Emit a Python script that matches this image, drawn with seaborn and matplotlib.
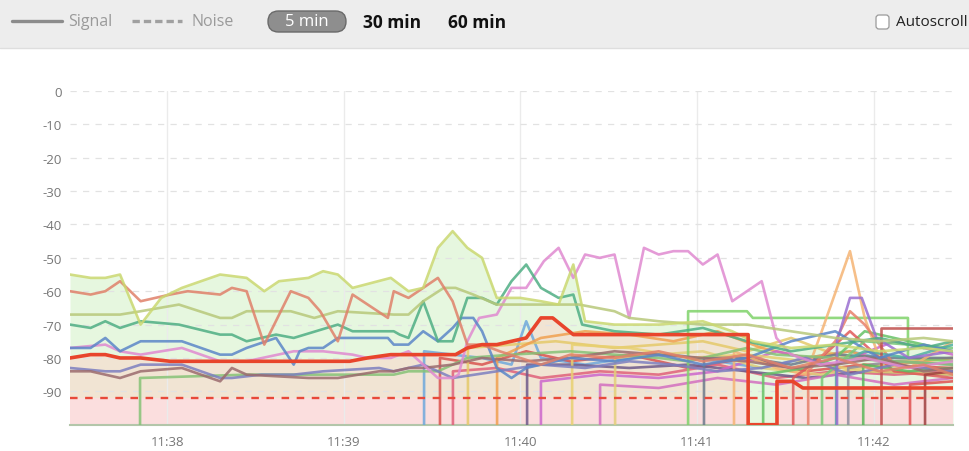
import matplotlib
matplotlib.use("Agg")
import matplotlib.pyplot as plt
import matplotlib.dates as mdates
from matplotlib.patches import Rectangle, FancyBboxPatch
from matplotlib.lines import Line2D
import numpy as np
import pandas as pd
import seaborn as sns

# 5 minute window, times are seconds after 11:37:27, values are dBm
START = pd.Timestamp("2014-05-20 11:37:27")
END = START + pd.Timedelta(seconds=300)
NOISE_DBM = -92
FLOOR_DBM = -100
y_ticks = [0, -10, -20, -30, -40, -50, -60, -70, -80, -90]

# networks seen from the start
lime_t = [0, 7, 12, 17, 24, 31, 38, 51, 60, 66, 71, 81, 86, 91, 96, 109, 112, 115, 120, 125, 130, 135, 140, 145, 153, 160, 166, 171, 175, 185, 200, 215, 225, 232, 245, 260, 275, 290, 300]
lime_v = [-55, -56, -56, -55, -70, -62, -59, -55, -56, -60, -57, -56, -54, -55, -59, -56, -58, -60, -59, -47, -42, -47, -50, -62, -62, -63, -64, -52, -69, -70, -70, -69, -72, -75, -77, -76, -78, -77, -78]

salmon_t = [0, 7, 12, 17, 24, 34, 40, 51, 55, 60, 66, 75, 81, 85, 91, 96, 108, 110, 115, 120, 125, 130, 135, 140, 146, 153, 160, 170, 185, 200, 215, 230, 245, 260, 275, 290, 300]
salmon_v = [-60, -61, -60, -57, -63, -61, -60, -61, -59, -60, -76, -60, -62, -66, -75, -61, -68, -60, -62, -59, -56, -63, -76, -76, -78, -80, -82, -79, -80, -78, -81, -79, -83, -80, -84, -82, -85]

olive_t = [0, 17, 24, 37, 51, 55, 60, 75, 83, 91, 110, 115, 120, 127, 131, 137, 145, 153, 173, 185, 190, 200, 215, 230, 245, 260, 275, 290, 300]
olive_v = [-67, -67, -66, -64, -68, -68, -66, -66, -68, -66, -67, -67, -63, -59, -59, -61, -64, -64, -64, -66, -68, -69, -70, -70, -72, -74, -75, -74, -75]

teal_t = [0, 7, 12, 17, 24, 37, 51, 55, 60, 70, 76, 91, 96, 110, 112, 115, 120, 125, 130, 135, 140, 145, 150, 155, 160, 166, 171, 174, 185, 200, 215, 230, 245, 260, 275, 290, 300]
teal_v = [-70, -71, -69, -71, -69, -70, -73, -73, -75, -73, -74, -70, -72, -72, -73, -74, -63, -75, -75, -62, -62, -64, -57, -52, -59, -62, -61, -70, -72, -73, -71, -75, -78, -76, -74, -77, -75]

blue_t = [0, 7, 12, 17, 24, 38, 51, 55, 60, 70, 76, 78, 81, 86, 91, 108, 110, 115, 120, 125, 130, 133, 137, 140, 145, 150, 155, 160, 170, 185, 200, 215, 230, 245, 260, 275, 290, 300]
blue_v = [-77, -77, -74, -78, -75, -75, -79, -79, -77, -74, -82, -78, -77, -77, -74, -74, -76, -76, -72, -75, -71, -68, -68, -72, -83, -86, -83, -82, -80, -81, -79, -82, -80, -75, -72, -80, -76, -78]

pink_t = [0, 12, 17, 24, 38, 51, 60, 76, 86, 96, 101, 109, 115, 120, 125, 130, 132, 135, 139, 145, 150, 155, 161, 166, 171, 175, 180, 185, 190, 195, 200, 205, 210, 215, 220, 225, 230, 235, 240, 245, 255, 270, 285, 300]
pink_v = [-77, -76, -78, -79, -77, -81, -81, -78, -78, -79, -80, -80, -78, -82, -86, -86, -85, -75, -68, -67, -59, -59, -51, -47, -56, -49, -50, -49, -68, -47, -49, -48, -48, -52, -49, -63, -60, -57, -74, -79, -82, -80, -83, -81]

brown_t = [0, 7, 12, 17, 24, 38, 51, 55, 60, 81, 91, 105, 110, 115, 120, 130, 140, 155, 170, 185, 200, 215, 230, 245, 260, 275, 290, 300]
brown_v = [-84, -84, -85, -86, -84, -83, -87, -83, -85, -86, -86, -84, -84, -83, -83, -82, -80, -81, -80, -78, -79, -80, -81, -83, -82, -80, -84, -83]

purple_t = [0, 12, 17, 24, 38, 51, 55, 65, 76, 86, 105, 110, 120, 130, 145, 160, 175, 190, 205, 220, 235, 250, 265, 280, 300]
purple_v = [-83, -84, -84, -82, -82, -86, -86, -85, -85, -84, -83, -84, -82, -86, -84, -82, -83, -81, -82, -84, -83, -80, -85, -82, -84]

green_t = [23.8, 23.8, 60, 110, 115, 125, 135, 150, 170, 200, 210, 230, 240, 260, 300]
green_v = [-100, -86, -85, -85, -84, -84, -80, -79, -78, -80, -81, -77, -79, -80, -82]

# the selected network (thick red), drops out for a while near 11:41
red_t = [0, 7, 12, 17, 24, 34, 51, 65, 95, 101, 109, 131, 135, 140, 145, 150, 155, 160, 164, 171, 230.4, 230.4, 240.2, 240.2, 245.5, 249, 300]
red_v = [-80, -79, -79, -80, -80, -81, -81, -81, -81, -80, -79, -79, -77, -76, -76, -75, -74, -68, -68, -73, -73, -100, -100, -87, -87, -89, -89]

# networks that show up later (each rises from the floor)
sky_t = [120.3, 120.3, 130, 140, 150, 155, 160, 175, 190, 205, 220, 235, 250, 265, 280, 300]
sky_v = [-100, -78, -79, -80, -82, -69, -80, -82, -80, -79, -81, -83, -80, -78, -81, -80]
crimson_t = [125.7, 125.7, 140, 155, 170, 190, 210, 230, 250, 270, 300]
crimson_v = [-100, -80, -82, -78, -81, -79, -83, -80, -84, -82, -83]
rose_t = [130.1, 130.1, 145, 160, 180, 200, 220, 240, 260, 280, 300]
rose_v = [-100, -84, -83, -86, -84, -85, -82, -86, -84, -85, -84]
gold_t = [135.2, 135.2, 150, 165, 185, 200, 215, 230, 245, 260, 280, 300]
gold_v = [-100, -77, -76, -75, -77, -76, -75, -78, -74, -79, -81, -80]
orange_t = [145.1, 145.1, 160, 175, 190, 205, 220, 235, 250, 265, 280, 300]
orange_v = [-100, -80, -74, -72, -73, -75, -72, -77, -80, -78, -82, -80]
plum_t = [155.3, 155.3, 170, 190, 210, 230, 250, 270, 300]
plum_v = [-100, -82, -82, -83, -82, -84, -86, -84, -85]
orchid_t = [160, 160, 180, 200, 220, 240, 260, 280, 300]
orchid_v = [-100, -87, -85, -86, -84, -78, -82, -75, -79]
sand_t = [170.6, 170.6, 190, 210, 230, 250, 270, 300]
sand_v = [-100, -76, -77, -80, -79, -81, -84, -85]
magenta_t = [180.1, 180.1, 200, 220, 240, 260, 280, 300]
magenta_v = [-100, -88, -89, -86, -88, -85, -88, -86]
straw_t = [185.2, 185.2, 200, 215, 235, 255, 275, 300]
straw_v = [-100, -80, -79, -78, -83, -85, -82, -84]
leaf_t = [210, 210, 230, 232, 284.7, 284.7, 300]
leaf_v = [-100, -66, -66, -68, -68, -80, -81]
slate_t = [215.4, 215.4, 230, 245, 260, 280, 300]
slate_v = [-100, -80, -80, -82, -79, -80, -80]
peach_t = [225.6, 225.6, 240, 250, 255, 265, 270, 275, 285, 300]
peach_v = [-100, -78, -83, -85, -73, -48, -68, -80, -83, -75]
mint_t = [235.5, 235.5, 250, 260, 270, 280, 300]
mint_v = [-100, -85, -83, -80, -72, -74, -78]
coral_t = [245.7, 245.7, 255, 260, 265, 270, 280, 300]
coral_v = [-100, -86, -80, -76, -72, -76, -84, -86]
tomato_t = [250.8, 250.8, 260, 265, 270, 280, 300]
tomato_v = [-100, -84, -75, -66, -70, -82, -84]
fern_t = [255.5, 255.5, 270, 285, 300]
fern_v = [-100, -86, -75, -76, -77]
aqua_t = [260.3, 260.3, 270, 285, 300]
aqua_v = [-100, -82, -78, -80, -76]
violet_t = [260.6, 260.6, 265, 269, 274, 285, 300]
violet_v = [-100, -75, -62, -62, -74, -80, -78]
gray_t = [264.4, 264.4, 280, 300]
gray_v = [-100, -83, -81, -82]
moss_t = [269.5, 269.5, 285, 300]
moss_v = [-100, -82, -84, -83]
brick_t = [275.6, 275.6, 300]
brick_v = [-100, -71, -71]
scarlet_t = [285.4, 285.4, 300]
scarlet_v = [-100, -88, -87]
maroon_t = [290.5, 290.5, 300]
maroon_v = [-100, -85, -84]

networks = [
    ("sky", sky_t, sky_v, "#6fa8dc"), ("crimson", crimson_t, crimson_v, "#d9534f"),
    ("rose", rose_t, rose_v, "#e0607a"), ("gold", gold_t, gold_v, "#e5c96a"),
    ("orange", orange_t, orange_v, "#f0a050"), ("plum", plum_t, plum_v, "#6e5a8a"),
    ("orchid", orchid_t, orchid_v, "#cc66cc"), ("sand", sand_t, sand_v, "#e8d070"),
    ("magenta", magenta_t, magenta_v, "#d36fc0"), ("straw", straw_t, straw_v, "#e3cf7a"),
    ("leaf", leaf_t, leaf_v, "#7fd36a"), ("slate", slate_t, slate_v, "#6c7a8c"),
    ("peach", peach_t, peach_v, "#f5b474"), ("mint", mint_t, mint_v, "#66c266"),
    ("coral", coral_t, coral_v, "#e05a5a"), ("tomato", tomato_t, tomato_v, "#e8806a"),
    ("fern", fern_t, fern_v, "#78c878"), ("aqua", aqua_t, aqua_v, "#4fb0a0"),
    ("violet", violet_t, violet_v, "#9a6fd0"), ("gray", gray_t, gray_v, "#8f8f9f"),
    ("moss", moss_t, moss_v, "#5cb85c"), ("brick", brick_t, brick_v, "#c0504d"),
    ("scarlet", scarlet_t, scarlet_v, "#e05050"), ("maroon", maroon_t, maroon_v, "#a04040"),
    ("green", green_t, green_v, "#86c277"), ("purple", purple_t, purple_v, "#7d7fc0"),
    ("brown", brown_t, brown_v, "#9b6b6e"), ("pink", pink_t, pink_v, "#e08ad0"),
    ("blue", blue_t, blue_v, "#5b86c8"), ("teal", teal_t, teal_v, "#4fae84"),
    ("olive", olive_t, olive_v, "#b8c87a"), ("salmon", salmon_t, salmon_v, "#e0806a"),
    ("lime", lime_t, lime_v, "#cad870"),
]


def to_time(secs):
    return START + pd.to_timedelta(secs, unit="s")


rows = []
for name, ts, vs, _ in networks:
    for t, v in zip(ts, vs):
        rows.append({"net": name, "time": to_time(t), "dbm": v})
df = pd.DataFrame(rows)
palette = {name: col for name, _, _, col in networks}
red_df = pd.DataFrame({"time": to_time(red_t), "dbm": red_v})

sns.set_style("white")
plt.rcParams["font.family"] = ["Open Sans", "DejaVu Sans"]

W, H = 970, 452
fig = plt.figure(figsize=(9.7, 4.52), dpi=100)
ax = fig.add_axes([70 / W, 1 - 425.7 / H, 883 / W, 333.7 / H])

# background fills: lime envelope, selected network signal band and its noise floor
lime_times = to_time(lime_t)
red_times = to_time(red_t)
red_arr = np.array(red_v)
ax.fill_between(lime_times, lime_v, FLOOR_DBM, color="#e6f7df", lw=0, zorder=0.1)
ax.fill_between(red_times, red_v, NOISE_DBM, where=red_arr > -95, color="#f1e4d3", lw=0, zorder=0.2)
ax.fill_between(red_times, NOISE_DBM, FLOOR_DBM, where=red_arr > -95, color="#fbdede", lw=0, zorder=0.2)

sns.lineplot(data=df, x="time", y="dbm", hue="net", palette=palette, estimator=None,
             sort=False, lw=1.9, alpha=0.85, legend=False, ax=ax, zorder=3)
sns.lineplot(data=red_df, x="time", y="dbm", estimator=None, sort=False,
             color="#e8452c", lw=2.6, ax=ax, zorder=5)
ax.axhline(NOISE_DBM, color="#e8493a", lw=1.7, ls=(0, (3.2, 3.2)), zorder=6)

ax.set_xlim(START, END)
ax.set_ylim(FLOOR_DBM, 0)
ax.set_yticks(y_ticks)
ax.set_yticklabels([str(v) for v in y_ticks])
ax.xaxis.set_major_locator(mdates.MinuteLocator())
ax.xaxis.set_major_formatter(mdates.DateFormatter("%H:%M"))
ax.set_xlabel("")
ax.set_ylabel("")

ax.set_axisbelow(True)
ax.yaxis.grid(True, color="#e2e2e2", ls=(0, (5, 5)), lw=0.9)
ax.xaxis.grid(True, color="#ebebeb", lw=1)
for side in ["left", "top", "right"]:
    ax.spines[side].set_visible(False)
ax.spines["bottom"].set_color("#b3c6aa")
ax.spines["bottom"].set_linewidth(1.5)
ax.tick_params(axis="x", length=5, color="#e6e6e6", labelcolor="#777777", labelsize=9.5, pad=2.5)
ax.tick_params(axis="y", length=0, labelcolor="#777777", labelsize=9.5, pad=6)


# header bar
def fx(x):
    return x / W


def fy(y):
    return 1 - y / H


fig.add_artist(Rectangle((0, fy(48)), 1, 48 / H, transform=fig.transFigure,
                         color="#ededed", zorder=0))
fig.add_artist(Line2D([0, 1], [fy(48.5)] * 2, transform=fig.transFigure, color="#dedede", lw=1))
fig.add_artist(Line2D([fx(12), fx(62)], [fy(22)] * 2, transform=fig.transFigure,
                      color="#8c8c8c", lw=2.4))
fig.text(fx(68), fy(22), "Signal", color="#9a9a9a", fontsize=11.5, va="center")
fig.add_artist(Line2D([fx(132), fx(182)], [fy(22)] * 2, transform=fig.transFigure,
                      color="#a0a0a0", lw=2.4, ls=(0, (2.2, 1.2))))
fig.text(fx(192), fy(22), "Noise", color="#9a9a9a", fontsize=11.5, va="center")

aspect = W / H
fig.add_artist(FancyBboxPatch((fx(268), fy(33)), 78 / W, 21 / H, transform=fig.transFigure,
                              boxstyle="round,pad=0,rounding_size=%f" % (10.5 / W),
                              mutation_aspect=aspect, fc="#8e8e8e", ec="#6a6a6a", lw=1))
fig.text(fx(307), fy(22.5), "5 min", color="white", fontsize=12, ha="center", va="center")
fig.text(fx(363), fy(22.5), "30 min", color="#111111", fontsize=12.5, weight="bold", va="center")
fig.text(fx(448), fy(22.5), "60 min", color="#111111", fontsize=12.5, weight="bold", va="center")

fig.add_artist(FancyBboxPatch((fx(876), fy(30)), 13 / W, 14 / H, transform=fig.transFigure,
                              boxstyle="round,pad=0,rounding_size=%f" % (3 / W),
                              mutation_aspect=aspect, fc="white", ec="#9a9a9a", lw=0.9))
fig.text(fx(896), fy(23), "Autoscroll", color="#222222", fontsize=11, va="center")

fig.savefig("out.png", dpi=100, facecolor="white")
